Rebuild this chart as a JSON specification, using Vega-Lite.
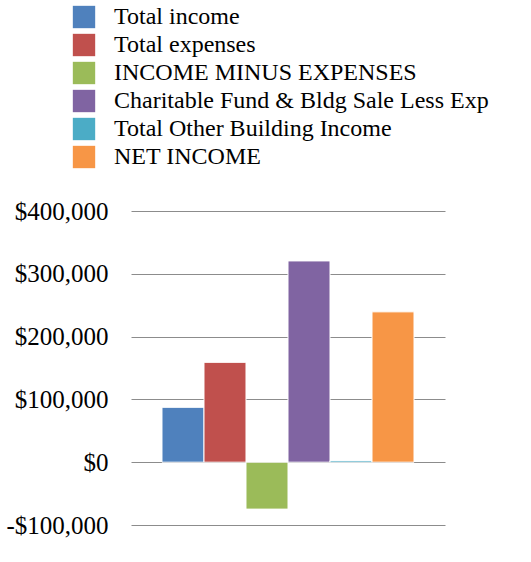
{
  "$schema": "https://vega.github.io/schema/vega-lite/v6.json",
  "width": 314,
  "height": 314,
  "autosize": {"type": "none"},
  "padding": {"left": 131, "top": 211, "right": 86, "bottom": 37},
  "background": "white",
  "data": {
    "values": [
      {"series": "Total income", "value": 87400},
      {"series": "Total expenses", "value": 159000},
      {"series": "INCOME MINUS EXPENSES", "value": -74700},
      {"series": "Charitable Fund & Bldg Sale Less Exp", "value": 320500},
      {"series": "Total Other Building Income", "value": 2500},
      {"series": "NET INCOME", "value": 239400}
    ]
  },
  "mark": {"type": "bar", "stroke": "white", "strokeWidth": 1},
  "encoding": {
    "x": {
      "field": "series",
      "type": "nominal",
      "sort": null,
      "axis": null,
      "scale": {"paddingInner": 0, "paddingOuter": 0.738}
    },
    "y": {
      "field": "value",
      "type": "quantitative",
      "scale": {"domain": [-100000, 400000], "nice": false},
      "axis": {
        "title": null,
        "values": [-100000, 0, 100000, 200000, 300000, 400000],
        "labelExpr": "datum.value < 0 ? '-$' + format(-datum.value, ',') : '$' + format(datum.value, ',')",
        "labelFont": "Liberation Serif",
        "labelFontSize": 25,
        "labelColor": "#000000",
        "labelPadding": 23,
        "ticks": false,
        "domain": false,
        "grid": true,
        "gridColor": "#8c8c8c",
        "gridWidth": 1
      }
    },
    "color": {
      "field": "series",
      "type": "nominal",
      "sort": null,
      "scale": {
        "domain": ["Total income", "Total expenses", "INCOME MINUS EXPENSES", "Charitable Fund & Bldg Sale Less Exp", "Total Other Building Income", "NET INCOME"],
        "range": ["#4F81BD", "#C0504D", "#9BBB59", "#8064A2", "#4BACC6", "#F79646"]
      },
      "legend": {
        "title": null,
        "orient": "none",
        "legendX": -59,
        "legendY": -206,
        "symbolType": "square",
        "symbolSize": 500,
        "symbolStrokeWidth": 0,
        "labelFont": "Liberation Serif",
        "labelFontSize": 24,
        "labelColor": "#000000",
        "labelOffset": 18,
        "rowPadding": 4,
        "labelLimit": 500
      }
    }
  },
  "config": {"view": {"stroke": null}}
}
